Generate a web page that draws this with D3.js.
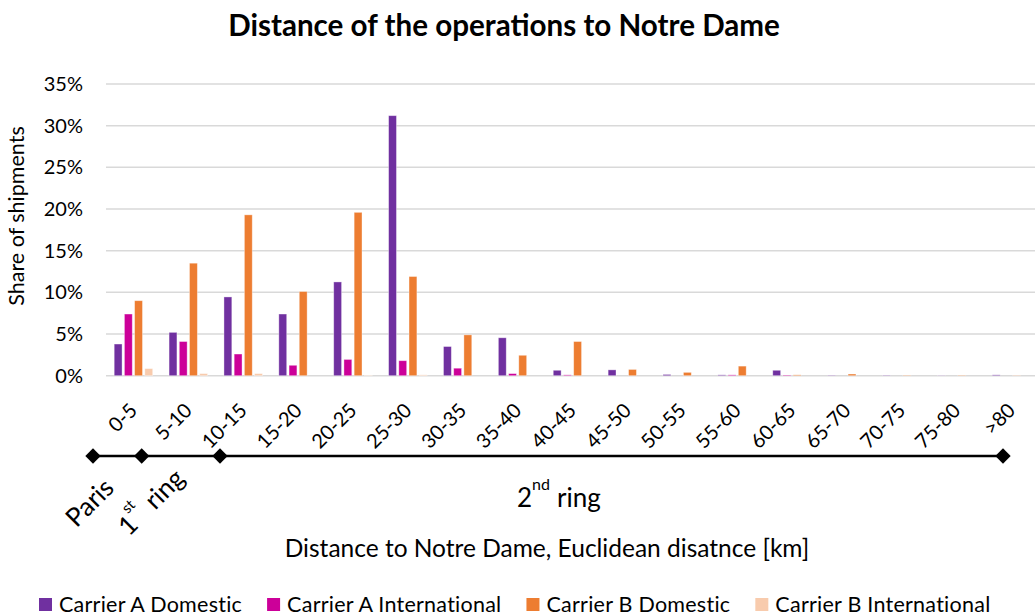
<!DOCTYPE html>
<html>
<head>
<meta charset="utf-8">
<script src="https://cdn.jsdelivr.net/npm/d3@7"></script>
<style>
  html, body { margin: 0; padding: 0; background: #fff; }
  svg { display: block; }
  text { font-family: Lato, "Open Sans", sans-serif; fill: #000; }
</style>
</head>
<body>
<svg id="chart" width="1035" height="616"></svg>
<script>
// ---------- data ----------
const categories = ["0-5","5-10","10-15","15-20","20-25","25-30","30-35","35-40","40-45","45-50","50-55","55-60","60-65","65-70","70-75","75-80",">80"];
const seriesNames = ["Carrier A Domestic","Carrier A International","Carrier B Domestic","Carrier B International"];
const carrierADomestic      = [3.8, 5.2, 9.45, 7.4, 11.25, 31.2, 3.5, 4.55, 0.65, 0.7, 0.15, 0.1, 0.65, 0.05, 0.05, 0.03, 0.1];
const carrierAInternational = [7.4, 4.1, 2.6, 1.25, 1.95, 1.8, 0.9, 0.25, 0.1, 0, 0, 0.1, 0.08, 0, 0, 0, 0];
const carrierBDomestic      = [9.0, 13.5, 19.3, 10.1, 19.6, 11.9, 4.9, 2.45, 4.1, 0.75, 0.4, 1.15, 0.1, 0.2, 0.05, 0.05, 0.03];
const carrierBInternational = [0.85, 0.25, 0.25, 0, 0.05, 0.1, 0, 0, 0, 0, 0, 0, 0, 0, 0, 0, 0];
const yTicks = [0, 5, 10, 15, 20, 25, 30, 35];
const colors = ["#7030A0", "#CC0099", "#ED7D31", "#F8CBAD"];

const seriesValues = [carrierADomestic, carrierAInternational, carrierBDomestic, carrierBInternational];

// ---------- layout ----------
const svg = d3.select("#chart");
const plotLeft = 106, plotRight = 1039, plotTop = 84, plotBottom = 375.7;

const x0 = d3.scaleBand().domain(categories).range([plotLeft, plotRight]).paddingInner(0).paddingOuter(0);
const groupW = 38.5;
const x1 = d3.scaleBand().domain(seriesNames)
  .range([(x0.bandwidth() - groupW) / 2, (x0.bandwidth() + groupW) / 2])
  .paddingInner(0.23).paddingOuter(0);
const y = d3.scaleLinear().domain([0, 35]).range([plotBottom, plotTop]);

// title
svg.append("text")
  .attr("x", 504).attr("y", 36)
  .attr("text-anchor", "middle")
  .style("font-size", "29.6px").style("font-weight", "700")
  .text("Distance of the operations to Notre Dame");

// gridlines
svg.append("g").selectAll("line").data(yTicks).join("line")
  .attr("x1", plotLeft).attr("x2", 1035)
  .attr("y1", d => y(d)).attr("y2", d => y(d))
  .attr("stroke", "#d9d9d9").attr("stroke-width", 1.5);

// y axis labels
const yAxis = d3.axisLeft(y).tickValues(yTicks).tickFormat(d => d + "%").tickSize(0).tickPadding(0);
const yg = svg.append("g").attr("transform", `translate(83,0)`).call(yAxis);
yg.select(".domain").remove();
yg.selectAll("text").style("font-size", "20px").style("font-family", "Lato, sans-serif").attr("fill", "#000");

// y title
svg.append("text")
  .attr("transform", "translate(24,216) rotate(-90)")
  .attr("text-anchor", "middle")
  .style("font-size", "21.5px")
  .text("Share of shipments");

// bars
const groups = svg.append("g").selectAll("g").data(categories).join("g")
  .attr("transform", d => `translate(${x0(d)},0)`);
groups.selectAll("rect")
  .data((c, i) => seriesNames.map((s, k) => ({ s, k, v: seriesValues[k][i] })))
  .join("rect")
  .attr("x", d => x1(d.s))
  .attr("width", x1.bandwidth())
  .attr("y", d => y(d.v))
  .attr("height", d => y(0) - y(d.v))
  .attr("fill", d => colors[d.k])
  .attr("stroke", "#ffffff").attr("stroke-opacity", 0.45).attr("stroke-width", 0.8);

// x tick labels
const xAxis = d3.axisBottom(x0).tickSize(0).tickPadding(0);
const xg = svg.append("g").attr("transform", `translate(0,${plotBottom})`).call(xAxis);
xg.select(".domain").remove();
xg.selectAll("text")
  .style("font-size", "20px").style("font-family", "Lato, sans-serif").attr("fill", "#000")
  .attr("text-anchor", "end")
  .attr("dy", 0)
  .attr("transform", "translate(5,36) rotate(-45)");

// zone line
const lineY = 456;
const markerXs = [93, 141.7, 220, 1003];
svg.append("line")
  .attr("x1", markerXs[0]).attr("x2", markerXs[3])
  .attr("y1", lineY).attr("y2", lineY)
  .attr("stroke", "#000").attr("stroke-width", 2.5);
svg.append("g").selectAll("path").data(markerXs).join("path")
  .attr("d", d3.symbol(d3.symbolDiamond2, 150))
  .attr("transform", d => `translate(${d},${lineY})`)
  .attr("fill", "#000");

// zone labels
svg.append("text")
  .attr("transform", "translate(96,509) rotate(-45)")
  .attr("text-anchor", "middle")
  .style("font-size", "26px")
  .text("Paris");

const ring1 = svg.append("text")
  .attr("transform", "translate(129,537) rotate(-45)")
  .attr("text-anchor", "start")
  .style("font-size", "26px");
ring1.append("tspan").text("1");
ring1.append("tspan").attr("dy", -17).style("font-size", "15px").text("st");
ring1.append("tspan").attr("dy", 17).attr("dx", 10).text("ring");

const ring2 = svg.append("text")
  .attr("x", 517).attr("y", 507)
  .style("font-size", "26px");
ring2.append("tspan").text("2");
ring2.append("tspan").attr("dy", -17).style("font-size", "16px").text("nd");
ring2.append("tspan").attr("dy", 17).attr("dx", 7).text("ring");

// x title
svg.append("text")
  .attr("x", 547).attr("y", 557)
  .attr("text-anchor", "middle")
  .style("font-size", "24.5px")
  .text("Distance to Notre Dame, Euclidean disatnce [km]");

// legend
const legend = svg.append("g").attr("transform", "translate(39,605)");
let lx = 0;
seriesNames.forEach((name, k) => {
  const g = legend.append("g").attr("transform", `translate(${lx},0)`);
  g.append("rect").attr("x", 0).attr("y", -7).attr("width", 13).attr("height", 13).attr("fill", colors[k]);
  const t = g.append("text").attr("x", 20).attr("y", 6.5)
    .style("font-size", "21.5px").style("letter-spacing", "0.25px").text(name);
  lx += 20 + t.node().getComputedTextLength() + 25;
});
</script>
</body>
</html>
